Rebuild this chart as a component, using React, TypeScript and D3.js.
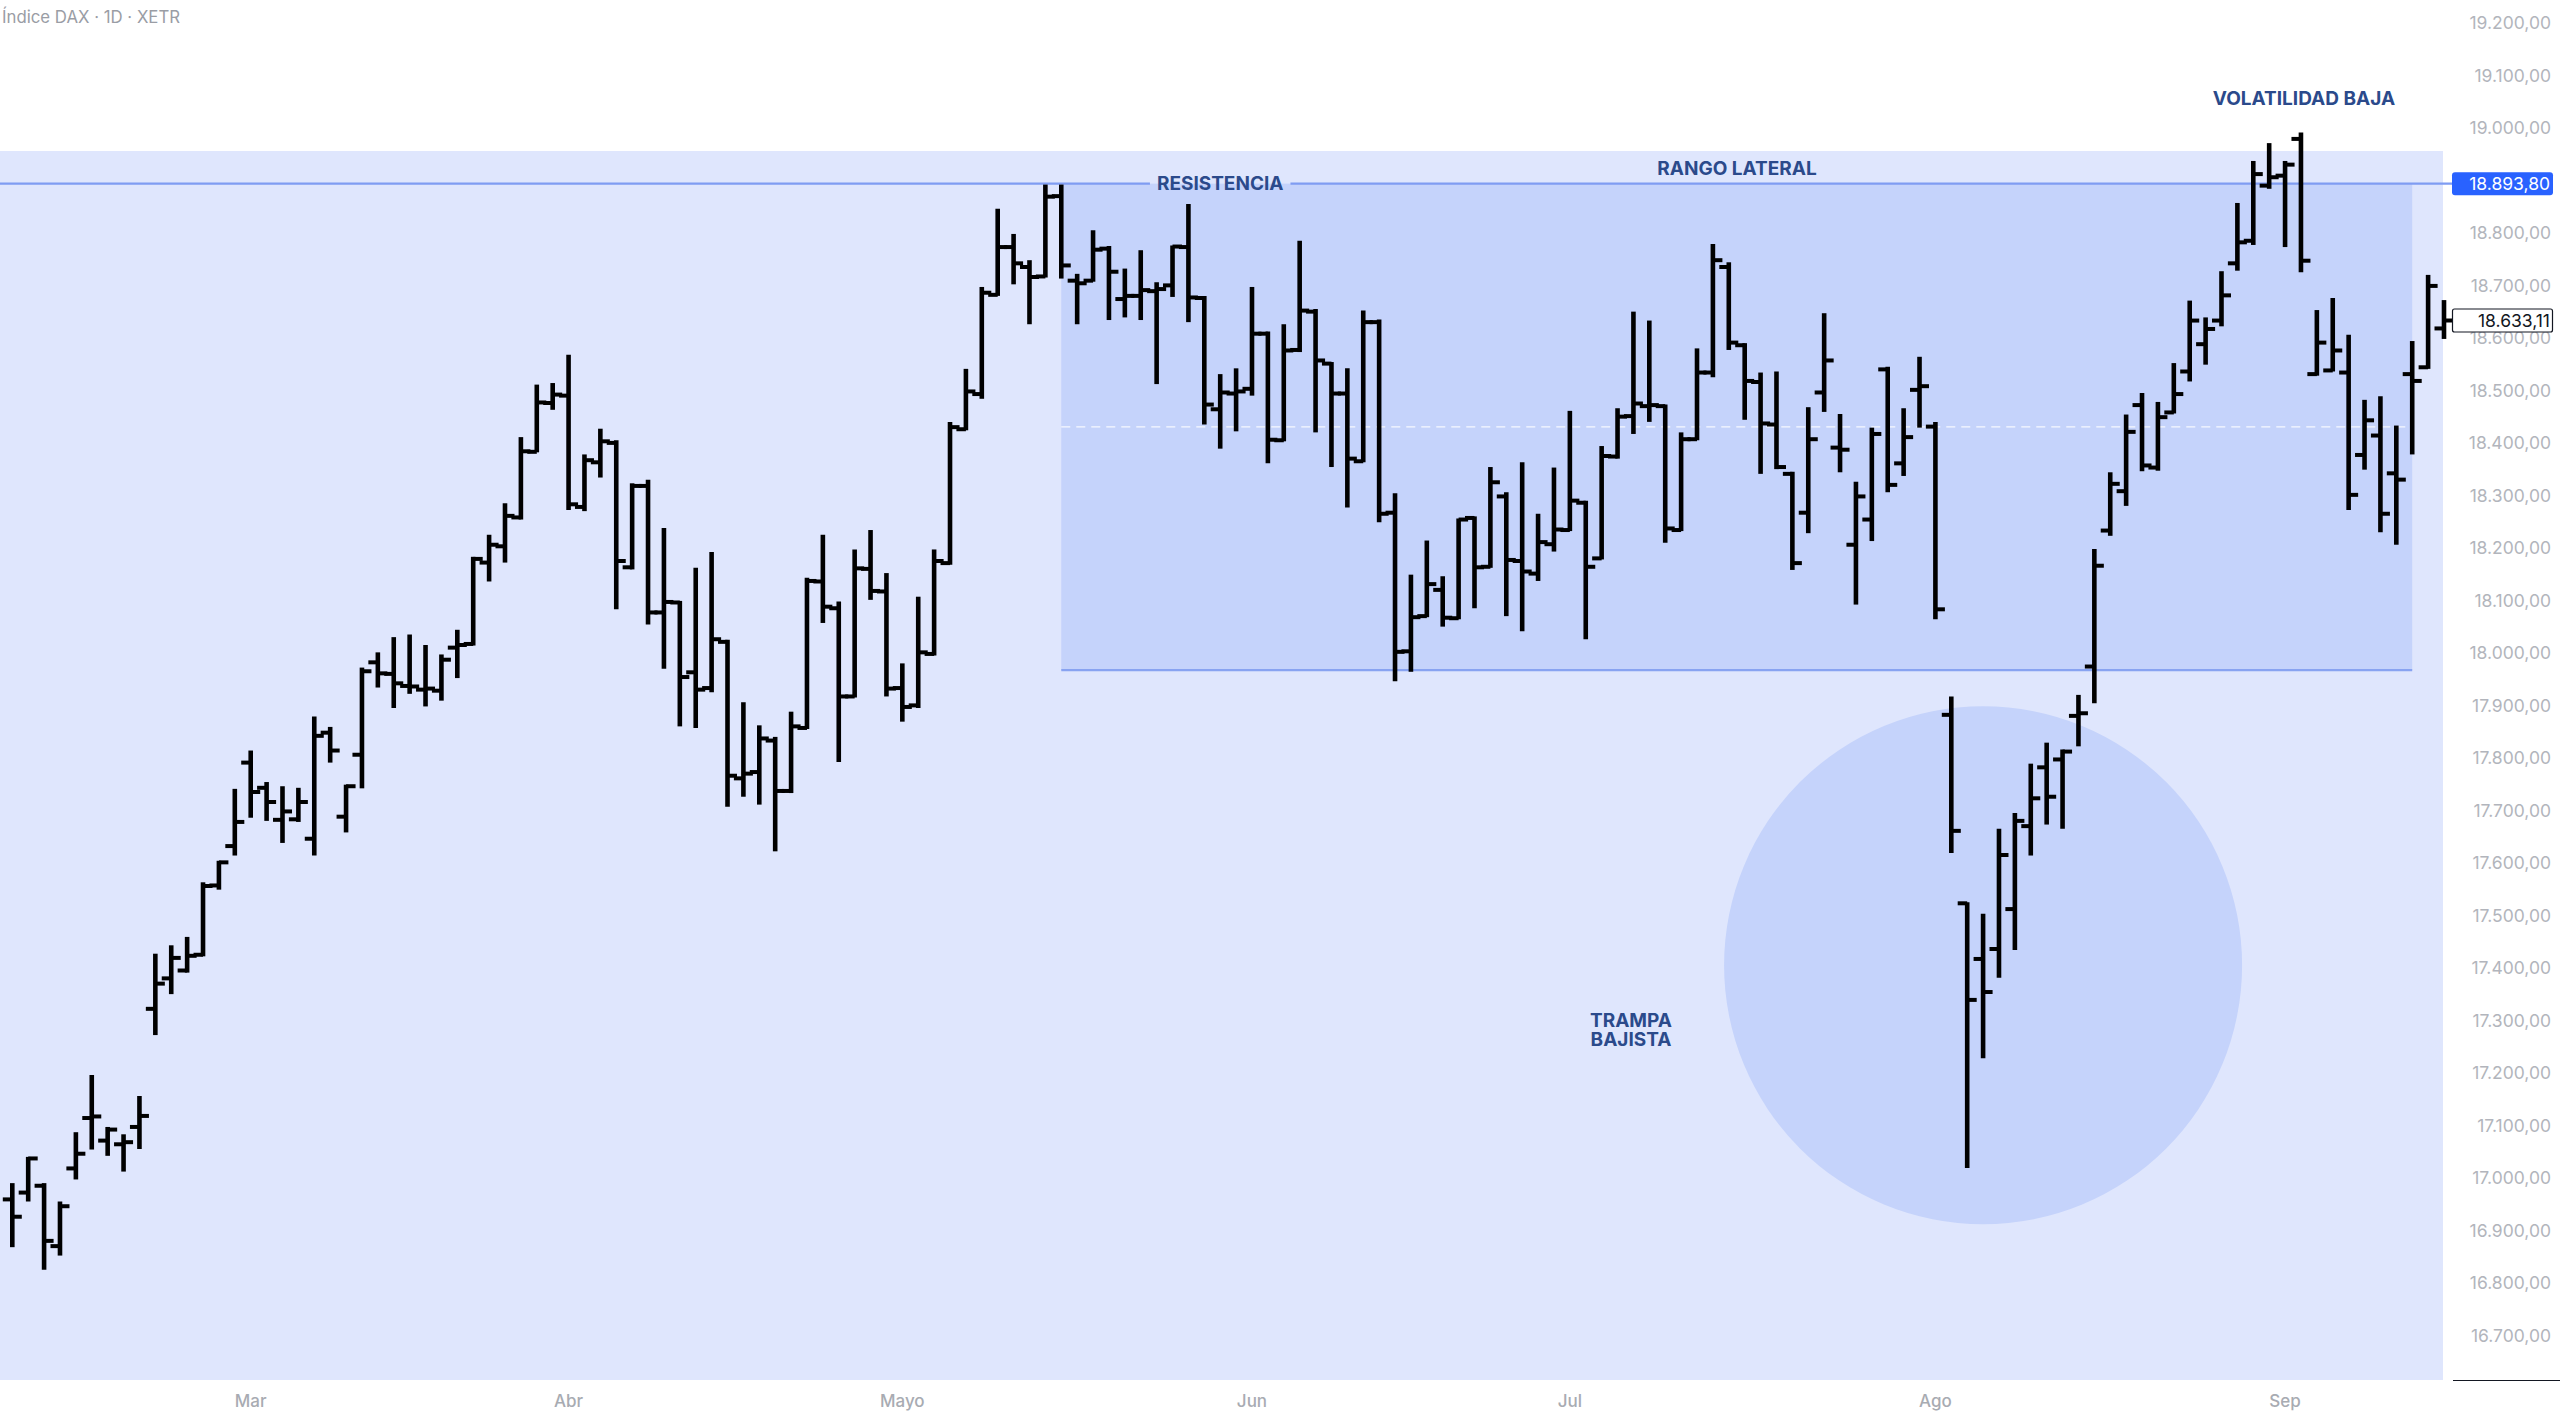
import { useEffect, useRef } from "react"
import * as d3 from "d3"

// DAX daily OHLC, 9 Feb 2024 to 16 Sep 2024
const OPEN = [
  16959, 16972, 16985, 16870, 17018, 17114, 17071, 17064, 17097, 17322,
  17380, 17395, 17425, 17557, 17632, 17791, 17743, 17682, 17683, 17646,
  17848, 17688, 17806, 17982, 17960, 17937, 17930, 17928, 18010, 18017,
  18172, 18203, 18258, 18383, 18476, 18490, 18278, 18363, 18400, 18163,
  18318, 18077, 18096, 17963, 17933, 18021, 17761, 17773, 17833, 17737,
  17857, 18136, 18085, 17917, 18160, 18117, 17933, 17900, 17998, 18171,
  18426, 18493, 18682, 18773, 18735, 18717, 18870, 18709, 18709, 18770,
  18674, 18680, 18689, 18700, 18773, 18676, 18464, 18494, 18503, 18608,
  18405, 18577, 18650, 18551, 18494, 18365, 18630, 18267, 18003, 18070,
  18120, 18066, 18257, 18164, 18298, 18175, 18151, 18207, 18234, 18286,
  18180, 18374, 18451, 18470, 18470, 18234, 18407, 18534, 18735, 18586,
  18516, 18435, 18341, 18267, 18496, 18391, 18206, 18254, 18540, 18361,
  18501, 18431, 17882, 17523, 17417, 17436, 17512, 17670, 17782, 17797,
  17880, 17974, 18233, 18308, 18472, 18353, 18458, 18536, 18588, 18633,
  18742, 18785, 18890, 18909, 18979, 18531, 18538, 18534, 18377, 18414,
  18342, 18531, 18544, 18618,
]
const HIGH = [
  16990, 17040, 16990, 16955, 17087, 17196, 17097, 17083, 17156, 17427,
  17443, 17459, 17563, 17604, 17741, 17814, 17754, 17746, 17743, 17879,
  17859, 17749, 17972, 18001, 18030, 18035, 18015, 17997, 18044, 18183,
  18225, 18285, 18411, 18511, 18514, 18568, 18378, 18427, 18405, 18323,
  18330, 18238, 18099, 18162, 18192, 18025, 17906, 17862, 17840, 17888,
  18143, 18225, 18098, 18197, 18234, 18152, 17980, 18107, 18197, 18440,
  18541, 18697, 18846, 18798, 18748, 18892, 18892, 18722, 18805, 18775,
  18732, 18767, 18706, 18776, 18855, 18680, 18531, 18542, 18697, 18612,
  18626, 18785, 18655, 18554, 18542, 18652, 18635, 18304, 18149, 18214,
  18146, 18256, 18260, 18354, 18306, 18363, 18265, 18353, 18461, 18290,
  18394, 18466, 18650, 18633, 18473, 18420, 18580, 18779, 18744, 18590,
  18534, 18536, 18345, 18468, 18647, 18455, 18326, 18429, 18545, 18466,
  18564, 18440, 17917, 17525, 17503, 17665, 17695, 17789, 17829, 17816,
  17920, 18198, 18344, 18454, 18495, 18478, 18552, 18671, 18639, 18727,
  18857, 18937, 18971, 18937, 18991, 18653, 18676, 18606, 18482, 18489,
  18433, 18594, 18720, 18672,
]
const LOW = [
  16868, 16955, 16825, 16852, 16997, 17054, 17042, 17012, 17055, 17272,
  17350, 17391, 17422, 17549, 17614, 17686, 17680, 17638, 17678, 17614,
  17791, 17658, 17742, 17934, 17895, 17922, 17898, 17909, 17952, 18014,
  18136, 18172, 18254, 18382, 18463, 18272, 18270, 18334, 18083, 18159,
  18054, 17970, 17860, 17857, 17925, 17707, 17726, 17711, 17622, 17733,
  17855, 18057, 17792, 17915, 18101, 17917, 17869, 17895, 17995, 18168,
  18424, 18484, 18680, 18702, 18626, 18715, 18713, 18626, 18707, 18634,
  18639, 18634, 18512, 18678, 18630, 18435, 18389, 18422, 18490, 18361,
  18403, 18573, 18420, 18354, 18277, 18363, 18249, 17946, 17964, 18068,
  18050, 18064, 18085, 18162, 18070, 18041, 18137, 18193, 18232, 18026,
  18178, 18370, 18417, 18440, 18210, 18232, 18405, 18525, 18577, 18444,
  18341, 18350, 18158, 18228, 18459, 18344, 18092, 18213, 18306, 18337,
  18429, 18064, 17619, 17019, 17228, 17381, 17434, 17614, 17673, 17665,
  17822, 17904, 18223, 18280, 18346, 18347, 18456, 18517, 18549, 18622,
  18728, 18777, 18884, 18773, 18725, 18528, 18536, 18272, 18349, 18230,
  18206, 18378, 18541, 18598,
]
const CLOSE = [
  16926, 17037, 16880, 16946, 17046, 17117, 17092, 17068, 17118, 17370,
  17419, 17423, 17556, 17601, 17678, 17735, 17716, 17698, 17716, 17842,
  17814, 17746, 17965, 17961, 17942, 17936, 17932, 17987, 18015, 18179,
  18206, 18261, 18384, 18477, 18492, 18283, 18367, 18403, 18175, 18318,
  18077, 18097, 17954, 17930, 18026, 17766, 17770, 17837, 17737, 17860,
  18137, 18088, 17917, 18161, 18118, 17932, 17897, 18001, 18175, 18430,
  18498, 18686, 18773, 18742, 18716, 18869, 18738, 18704, 18768, 18726,
  18680, 18691, 18693, 18774, 18677, 18473, 18496, 18498, 18608, 18406,
  18576, 18652, 18557, 18494, 18370, 18630, 18265, 18002, 18068, 18131,
  18067, 18254, 18163, 18325, 18177, 18155, 18211, 18235, 18290, 18164,
  18375, 18450, 18475, 18472, 18237, 18407, 18534, 18748, 18591, 18518,
  18437, 18354, 18171, 18407, 18557, 18387, 18298, 18417, 18320, 18411,
  18508, 18083, 17661, 17339, 17354, 17615, 17680, 17723, 17726, 17812,
  17885, 18166, 18322, 18421, 18357, 18449, 18493, 18633, 18617, 18681,
  18782, 18912, 18906, 18930, 18747, 18591, 18576, 18301, 18443, 18265,
  18330, 18518, 18699, 18633.11,
]

// Xetra closed on these weekdays
const HOLIDAYS = ["2024-03-29", "2024-04-01", "2024-05-01"]
const MONTH_LABELS = ["Mar", "Abr", "Mayo", "Jun", "Jul", "Ago", "Sep"]
const PRICE_TICKS = [
  19200, 19100, 19000, 18900, 18800, 18700, 18600, 18500, 18400, 18300,
  18200, 18100, 18000, 17900, 17800, 17700, 17600, 17500, 17400, 17300,
  17200, 17100, 17000, 16900, 16800, 16700,
]

const RESISTANCE = 18893.8
const RANGE_LOW = 17967
const RANGE_START = "2024-05-16"
const RANGE_END = "2024-09-12"
const SHADE_TOP = 18956
const TRAP_CENTER = { date: "2024-08-06", value: 17405 }

const W = 2560
const H = 1416
const PANE_W = 2446
const PANE_H = 1380
const FONT = "Inter, 'Noto Sans', sans-serif"
const NOTE_COLOR = "#2b4a8b"

const fmtKey = d3.timeFormat("%Y-%m-%d")
const esLocale = d3.formatLocale({
  decimal: ",",
  thousands: ".",
  grouping: [3],
  currency: ["", "€"],
})
const fmtPrice = esLocale.format(",.2f")

export default function App() {
  const svgRef = useRef<SVGSVGElement>(null)

  useEffect(() => {
    document.body.style.margin = "0"
    const node = svgRef.current
    if (!node) return
    const svg = d3.select(node)
    svg.selectAll("*").remove()

    const days = d3.timeDay
      .range(new Date(2024, 1, 9), new Date(2024, 8, 17))
      .filter((d) => d.getDay() % 6 !== 0 && !HOLIDAYS.includes(fmtKey(d)))
    const keys = days.map(fmtKey)
    const bars = keys.map((k, i) => ({
      key: k,
      o: OPEN[i],
      h: HIGH[i],
      l: LOW[i],
      c: CLOSE[i],
    }))

    const x = d3.scalePoint<string>().domain(keys).range([12.3, 2444])
    const y = d3.scaleLinear().domain([16615, 19243.6]).range([PANE_H, 0])

    svg.append("rect").attr("width", W).attr("height", H).attr("fill", "#ffffff")

    svg
      .append("defs")
      .append("clipPath")
      .attr("id", "pane")
      .append("rect")
      .attr("width", PANE_W + 10)
      .attr("height", PANE_H)

    const pane = svg.append("g").attr("clip-path", "url(#pane)")

    // big light shading
    pane
      .append("rect")
      .attr("x", 0)
      .attr("y", y(SHADE_TOP))
      .attr("width", 2443)
      .attr("height", PANE_H - y(SHADE_TOP))
      .attr("fill", "#dfe6fd")

    // lateral range box
    const rx0 = x(RANGE_START)!
    const rx1 = x(RANGE_END)!
    pane
      .append("rect")
      .attr("x", rx0)
      .attr("y", y(RESISTANCE))
      .attr("width", rx1 - rx0)
      .attr("height", y(RANGE_LOW) - y(RESISTANCE))
      .attr("fill", "#c5d3fb")

    pane
      .append("line")
      .attr("x1", rx0)
      .attr("x2", rx1)
      .attr("y1", y((RESISTANCE + RANGE_LOW) / 2))
      .attr("y2", y((RESISTANCE + RANGE_LOW) / 2))
      .attr("stroke", "#ffffff")
      .attr("stroke-opacity", 0.85)
      .attr("stroke-width", 1.2)
      .attr("stroke-dasharray", "9 6")

    pane
      .append("line")
      .attr("x1", rx0)
      .attr("x2", rx1)
      .attr("y1", y(RANGE_LOW))
      .attr("y2", y(RANGE_LOW))
      .attr("stroke", "#88a3f1")
      .attr("stroke-width", 2.2)

    // bear trap circle
    pane
      .append("circle")
      .attr("cx", x(TRAP_CENTER.date)!)
      .attr("cy", y(TRAP_CENTER.value))
      .attr("r", 259)
      .attr("fill", "#c5d3fb")

    // resistance line with its label
    const resX = x("2024-05-30")!
    const resY = y(RESISTANCE)
    const resLabel = svg
      .append("text")
      .attr("x", resX)
      .attr("y", resY)
      .attr("text-anchor", "middle")
      .attr("dominant-baseline", "central")
      .attr("font-family", FONT)
      .attr("font-weight", 700)
      .attr("font-size", 19)
      .attr("fill", NOTE_COLOR)
      .text("RESISTENCIA")
    const half = (resLabel.node() as SVGTextElement).getComputedTextLength() / 2 + 7
    const resLine = pane.append("g").attr("stroke", "#7f9cf2").attr("stroke-width", 2.4)
    resLine
      .append("line")
      .attr("x1", 0)
      .attr("x2", resX - half)
      .attr("y1", resY)
      .attr("y2", resY)
    resLine
      .append("line")
      .attr("x1", resX + half)
      .attr("x2", 2460)
      .attr("y1", resY)
      .attr("y2", resY)
    resLabel.raise()

    // OHLC bars
    const g = pane.append("g").attr("stroke", "#000000")
    g.selectAll("line.hl")
      .data(bars)
      .join("line")
      .attr("class", "hl")
      .attr("x1", (d) => x(d.key)!)
      .attr("x2", (d) => x(d.key)!)
      .attr("y1", (d) => y(d.h))
      .attr("y2", (d) => y(d.l))
      .attr("stroke-width", 4.6)
    g.selectAll("line.op")
      .data(bars)
      .join("line")
      .attr("class", "op")
      .attr("x1", (d) => x(d.key)! - 9.5)
      .attr("x2", (d) => x(d.key)!)
      .attr("y1", (d) => y(d.o))
      .attr("y2", (d) => y(d.o))
      .attr("stroke-width", 4)
    g.selectAll("line.cl")
      .data(bars)
      .join("line")
      .attr("class", "cl")
      .attr("x1", (d) => x(d.key)!)
      .attr("x2", (d) => x(d.key)! + 9.5)
      .attr("y1", (d) => y(d.c))
      .attr("y2", (d) => y(d.c))
      .attr("stroke-width", 4)

    // annotations
    const note = (tx: number, ty: number, label: string) =>
      svg
        .append("text")
        .attr("x", tx)
        .attr("y", ty)
        .attr("text-anchor", "middle")
        .attr("dominant-baseline", "central")
        .attr("font-family", FONT)
        .attr("font-weight", 700)
        .attr("font-size", 19)
        .attr("fill", NOTE_COLOR)
        .text(label)
    note(1737, 168, "RANGO LATERAL")
    note(2304, 98, "VOLATILIDAD BAJA")
    note(1631, 1020, "TRAMPA")
    note(1631, 1039, "BAJISTA")

    // title
    svg
      .append("text")
      .attr("x", 2)
      .attr("y", 17)
      .attr("dominant-baseline", "central")
      .attr("font-family", FONT)
      .attr("font-size", 16.8)
      .attr("fill", "#9a9da5")
      .text("Índice DAX · 1D · XETR")

    // price scale
    svg
      .append("g")
      .selectAll("text")
      .data(PRICE_TICKS)
      .join("text")
      .attr("x", 2551)
      .attr("y", (d) => y(d))
      .attr("text-anchor", "end")
      .attr("dominant-baseline", "central")
      .attr("font-family", FONT)
      .attr("font-size", 17.5)
      .attr("fill", "#b2b5bc")
      .text((d) => fmtPrice(d))

    // resistance badge
    svg
      .append("rect")
      .attr("x", 2452)
      .attr("y", resY - 11.5)
      .attr("width", 101)
      .attr("height", 23)
      .attr("rx", 3)
      .attr("fill", "#2962ff")
    svg
      .append("text")
      .attr("x", 2550)
      .attr("y", resY)
      .attr("text-anchor", "end")
      .attr("dominant-baseline", "central")
      .attr("font-family", FONT)
      .attr("font-size", 17.5)
      .attr("fill", "#ffffff")
      .text(fmtPrice(RESISTANCE))

    // last price badge
    const last = CLOSE[CLOSE.length - 1]
    svg
      .append("rect")
      .attr("x", 2452.5)
      .attr("y", y(last) - 11.5)
      .attr("width", 100)
      .attr("height", 23)
      .attr("rx", 2)
      .attr("fill", "#ffffff")
      .attr("stroke", "#131722")
      .attr("stroke-width", 1.2)
    svg
      .append("text")
      .attr("x", 2550)
      .attr("y", y(last))
      .attr("text-anchor", "end")
      .attr("dominant-baseline", "central")
      .attr("font-family", FONT)
      .attr("font-size", 17.5)
      .attr("fill", "#131722")
      .text(fmtPrice(last))

    // time scale
    const monthStarts = d3
      .groups(keys, (k) => k.slice(0, 7))
      .slice(1)
      .map(([, ks]) => ks[0])
    svg
      .append("g")
      .selectAll("text")
      .data(monthStarts)
      .join("text")
      .attr("x", (d) => x(d)!)
      .attr("y", 1401)
      .attr("text-anchor", "middle")
      .attr("dominant-baseline", "central")
      .attr("font-family", FONT)
      .attr("font-weight", 500)
      .attr("font-size", 17)
      .attr("fill", "#a8abb2")
      .text((_, i) => MONTH_LABELS[i])

    svg
      .append("line")
      .attr("x1", 2453)
      .attr("x2", W)
      .attr("y1", PANE_H + 0.5)
      .attr("y2", PANE_H + 0.5)
      .attr("stroke", "#131722")
      .attr("stroke-width", 1)
  }, [])

  return <svg ref={svgRef} width={W} height={H} style={{ display: "block" }} />
}
